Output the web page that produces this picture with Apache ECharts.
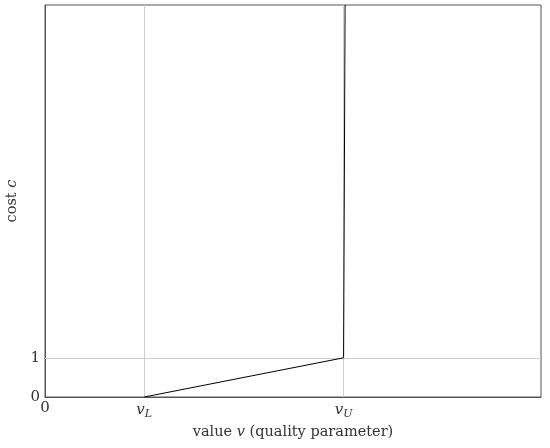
<!DOCTYPE html>
<html>
<head>
<meta charset="utf-8">
<script src="https://cdn.jsdelivr.net/npm/echarts@6/dist/echarts.min.js"></script>
<style>
  html, body { margin: 0; padding: 0; background: #fff; }
  #chart-container { width: 550px; height: 448px; }
</style>
</head>
<body>
<div id="chart-container"></div>
<script>
// cost curve: zero up to v_L, rises to 1 at v_U, then shoots up
const valuePoints = [1, 3.01, 3.025];
const costPoints = [0, 1, 10];

// x ticks: 0, v_L, v_U
const xTickValues = [0, 1, 3.01];
const xTickLabels = ["0", "{i|v}{s|L}", "{i|v}{s|U}"];
// y ticks
const yTickValues = [0, 1];
const yTickLabels = ["0", "1"];

const FONT = "DejaVu Serif";
const textColor = "#333";
const frameColor = "#555";
const gridColor = "#cfcfcf";

const dom = document.getElementById("chart-container");
const myChart = echarts.init(dom, null, { renderer: "canvas" });

const richLabel = {
  i: { fontFamily: FONT, fontStyle: "italic", fontSize: 15, color: textColor },
  s: { fontFamily: FONT, fontStyle: "italic", fontSize: 11, color: textColor, verticalAlign: "bottom", padding: [8, 0, 0, 0] }
};

const option = {
  animation: false,
  grid: {
    left: 45, right: 9, top: 5, bottom: 51,
    outerBoundsMode: "none",
    containLabel: false,
    show: true, borderColor: frameColor, borderWidth: 1
  },
  xAxis: {
    type: "value",
    min: 0, max: 5,
    name: "value {i|v} (quality parameter)",
    nameLocation: "middle",
    nameGap: 26,
    nameTextStyle: {
      fontFamily: FONT, fontSize: 14.5, color: textColor,
      rich: { i: { fontFamily: FONT, fontStyle: "italic", fontSize: 14.5, color: textColor } }
    },
    axisLine: { show: true, lineStyle: { color: frameColor } },
    axisTick: { show: false },
    splitLine: { show: false },
    axisLabel: {
      customValues: xTickValues,
      formatter: (v) => xTickLabels[xTickValues.indexOf(v)] || "",
      fontFamily: FONT, fontSize: 15, color: textColor, margin: 4,
      rich: richLabel
    }
  },
  yAxis: {
    type: "value",
    min: 0, max: 10,
    name: "cost {i|c}",
    nameLocation: "middle",
    nameGap: 22,
    nameTextStyle: {
      fontFamily: FONT, fontSize: 14.5, color: textColor,
      rich: { i: { fontFamily: FONT, fontStyle: "italic", fontSize: 14.5, color: textColor } }
    },
    axisLine: { show: true, lineStyle: { color: frameColor } },
    axisTick: { show: false },
    splitLine: { show: false },
    axisLabel: {
      customValues: yTickValues,
      formatter: (v) => yTickLabels[yTickValues.indexOf(v)] || "",
      fontFamily: FONT, fontSize: 15, color: textColor, margin: 5
    }
  },
  series: [
    {
      type: "line",
      data: valuePoints.map((v, i) => [v, costPoints[i]]),
      showSymbol: false,
      lineStyle: { color: "#000", width: 1 },
      z: 3,
      markLine: {
        silent: true,
        symbol: "none",
        label: { show: false },
        lineStyle: { color: gridColor, type: "solid", width: 1 },
        z: 1,
        data: [
          { xAxis: xTickValues[1] },
          { xAxis: xTickValues[2] },
          { yAxis: yTickValues[1] }
        ]
      }
    }
  ]
};

myChart.setOption(option);
</script>
</body>
</html>
